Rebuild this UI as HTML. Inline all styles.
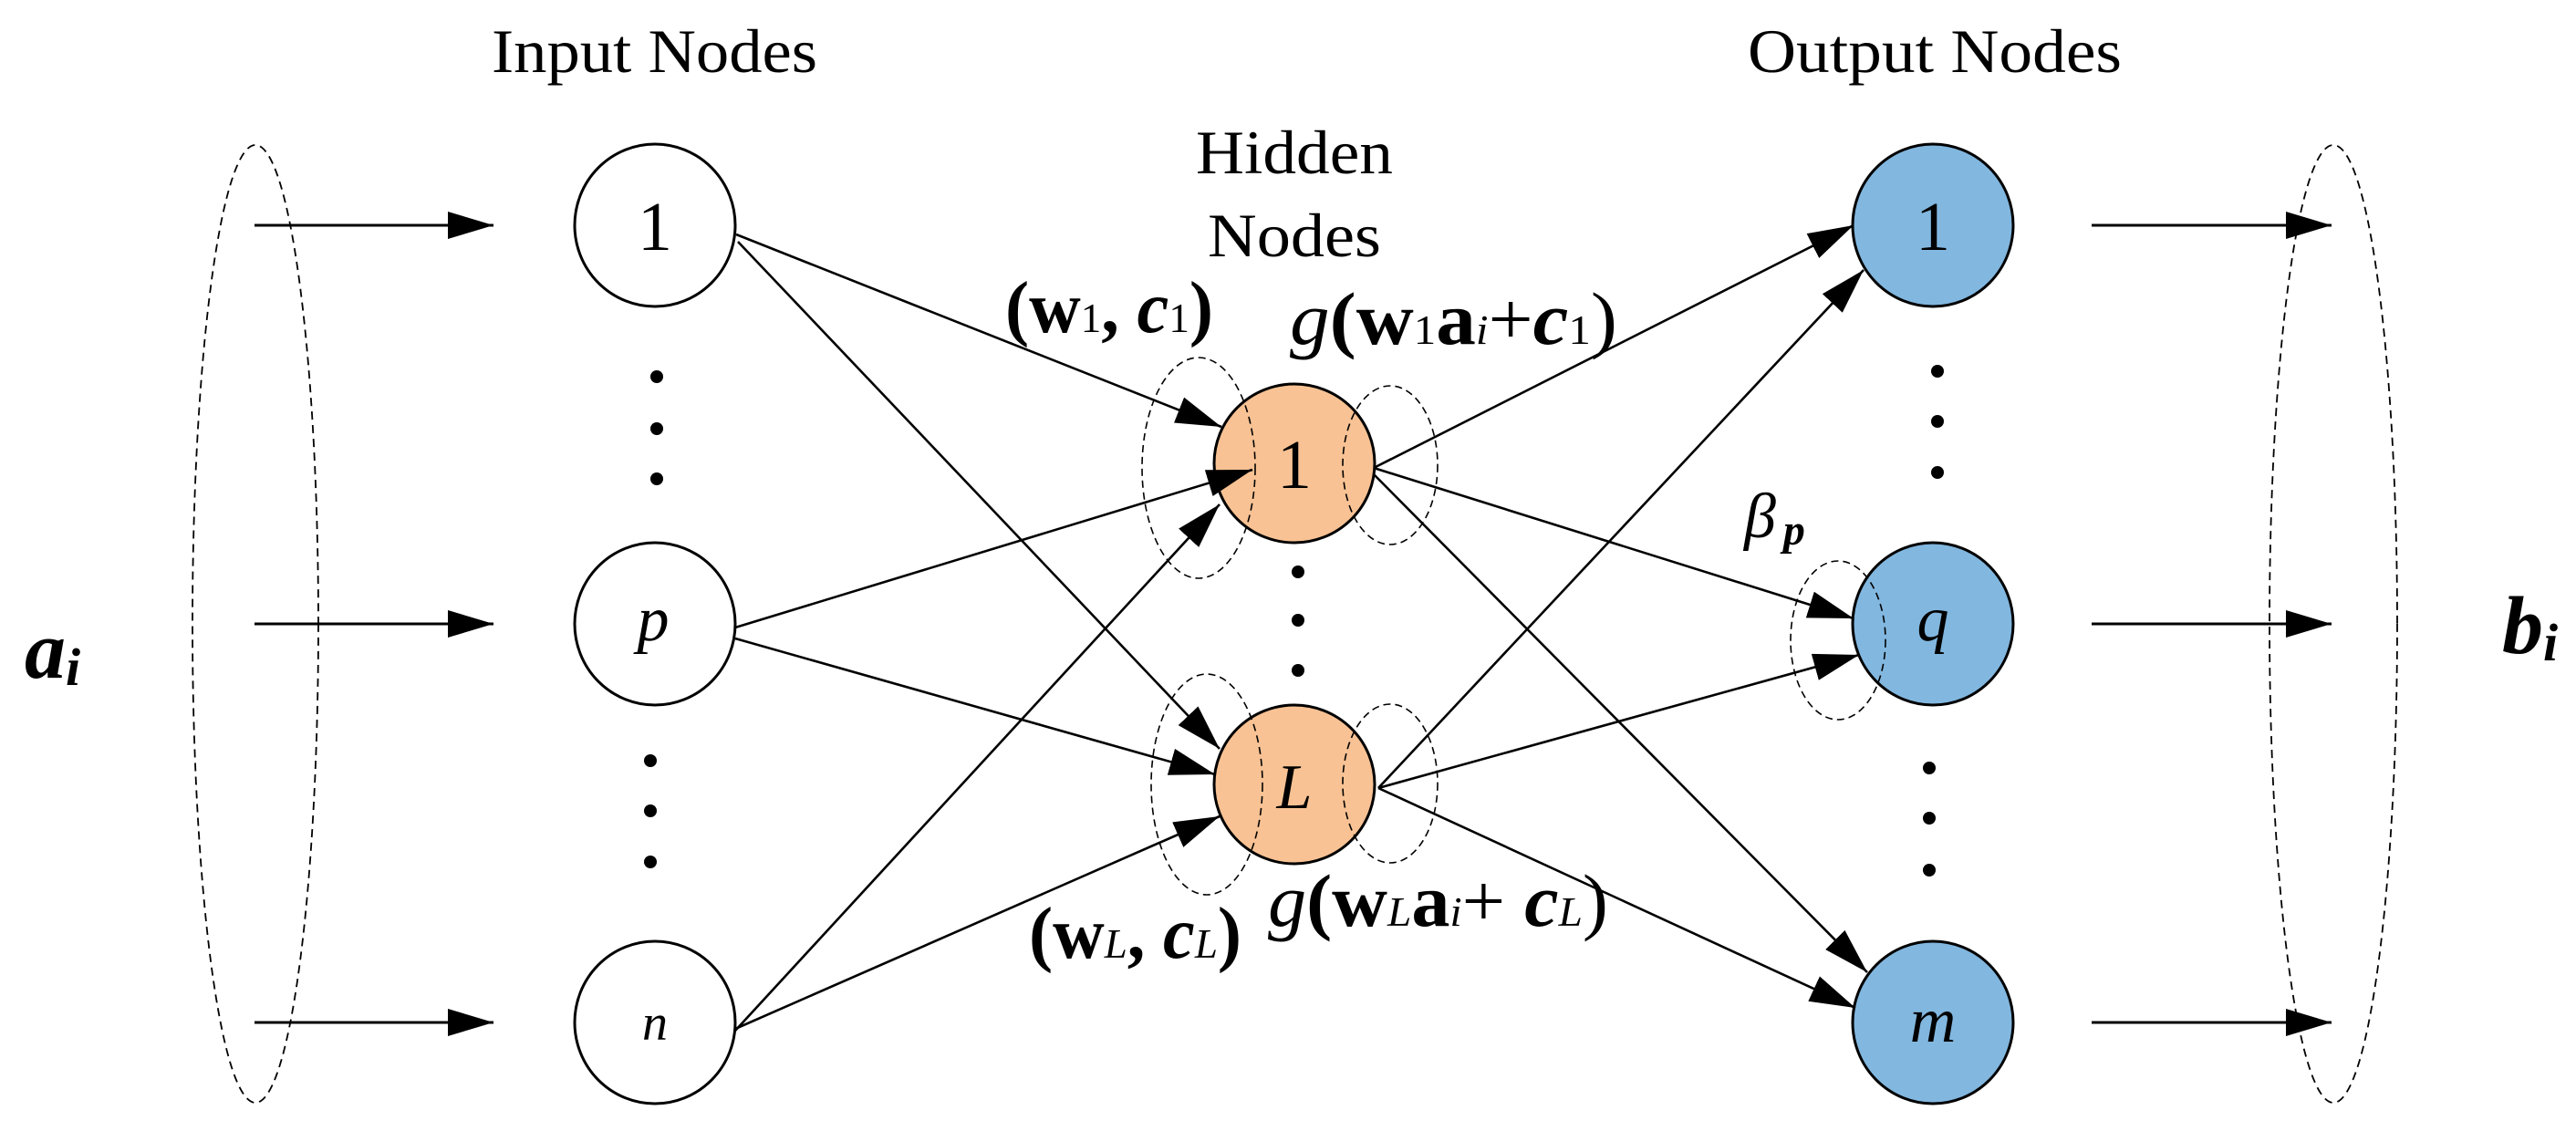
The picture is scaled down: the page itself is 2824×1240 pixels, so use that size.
<!DOCTYPE html>
<html><head><meta charset="utf-8"><style>
html,body{margin:0;padding:0;background:#fff;}
svg{display:block;font-family:"Liberation Serif","Times New Roman",serif;}
</style></head><body>
<svg width="2824" height="1240" viewBox="0 0 2824 1240" xmlns="http://www.w3.org/2000/svg">
<defs>
<marker id="a" markerUnits="userSpaceOnUse" markerWidth="52" markerHeight="32" refX="50" refY="15" orient="auto">
<path d="M0,0 L50,15 L0,30 Z" fill="#000"/>
</marker>
</defs>
<g fill="none" stroke="#000" stroke-width="1.8" stroke-dasharray="9,6">
<ellipse cx="280" cy="684" rx="69" ry="525"/>
<ellipse cx="2558" cy="684" rx="70" ry="525"/>
</g>
<g stroke="#000" stroke-width="3" marker-end="url(#a)">
<line x1="279" y1="247" x2="541" y2="247"/>
<line x1="279" y1="684" x2="541" y2="684"/>
<line x1="279" y1="1121" x2="541" y2="1121"/>
<line x1="2293" y1="247" x2="2556" y2="247"/>
<line x1="2293" y1="684" x2="2556" y2="684"/>
<line x1="2293" y1="1121" x2="2556" y2="1121"/>
</g>
<g fill="#fff" stroke="#000" stroke-width="3">
<ellipse cx="718" cy="247" rx="88" ry="89"/>
<ellipse cx="718" cy="684" rx="88" ry="89"/>
<ellipse cx="718" cy="1121" rx="88" ry="89"/>
</g>
<g fill="#F8C294" stroke="#000" stroke-width="3">
<ellipse cx="1419" cy="508" rx="88" ry="87"/>
<ellipse cx="1419" cy="860" rx="88" ry="87"/>
</g>
<g fill="#82B7DF" stroke="#000" stroke-width="3">
<ellipse cx="2119" cy="247" rx="88" ry="89"/>
<ellipse cx="2119" cy="684" rx="88" ry="89"/>
<ellipse cx="2119" cy="1121" rx="88" ry="89"/>
</g>
<g stroke="#000" stroke-width="2.6" marker-end="url(#a)">
<line x1="807" y1="257" x2="1339" y2="468"/>
<line x1="809" y1="265" x2="1337" y2="821"/>
<line x1="806" y1="688" x2="1373" y2="515"/>
<line x1="806" y1="700" x2="1332" y2="849"/>
<line x1="806" y1="1130" x2="1337" y2="553"/>
<line x1="806" y1="1128" x2="1337" y2="895"/>
<line x1="1506" y1="513" x2="2032" y2="247"/>
<line x1="1506" y1="513" x2="2032" y2="678"/>
<line x1="1506" y1="520" x2="2047" y2="1066"/>
<line x1="1511" y1="864" x2="2043" y2="296"/>
<line x1="1511" y1="864" x2="2038" y2="718"/>
<line x1="1511" y1="864" x2="2034" y2="1105"/>
</g>
<g fill="none" stroke="#000" stroke-width="1.6" stroke-dasharray="8,5">
<ellipse cx="1314" cy="513" rx="62" ry="121"/>
<ellipse cx="1524" cy="510" rx="52" ry="87"/>
<ellipse cx="1323" cy="860" rx="61" ry="121"/>
<ellipse cx="1524" cy="859" rx="52" ry="87"/>
<ellipse cx="2015" cy="702" rx="52" ry="87"/>
</g>
<g fill="#000">
<circle cx="720" cy="413" r="7"/><circle cx="720" cy="470" r="7"/><circle cx="720" cy="525" r="7"/>
<circle cx="713" cy="834" r="7"/><circle cx="713" cy="889" r="7"/><circle cx="713" cy="945" r="7"/>
<circle cx="1423" cy="627" r="7"/><circle cx="1423" cy="680" r="7"/><circle cx="1423" cy="735" r="7"/>
<circle cx="2124" cy="407" r="7"/><circle cx="2124" cy="462" r="7"/><circle cx="2124" cy="518" r="7"/>
<circle cx="2115" cy="842" r="7"/><circle cx="2115" cy="897" r="7"/><circle cx="2115" cy="954" r="7"/>
</g>
<g fill="#000" font-size="68" font-family="Liberation Serif, serif">
<text x="539" y="79" textLength="357" lengthAdjust="spacingAndGlyphs">Input Nodes</text>
<text x="1916" y="79" textLength="410" lengthAdjust="spacingAndGlyphs">Output Nodes</text>
<text x="1311" y="190" textLength="216" lengthAdjust="spacingAndGlyphs">Hidden</text>
<text x="1324" y="281" textLength="190" lengthAdjust="spacingAndGlyphs">Nodes</text>
<g text-anchor="middle" font-size="76">
<text x="718" y="274">1</text>
<text x="1419" y="535">1</text>
<text x="2119" y="274">1</text>
</g>
<g text-anchor="middle" font-style="italic" font-size="70">
<text x="716" y="702">p</text>
<text x="718" y="1140" font-size="56">n</text>
<text x="1419" y="886">L</text>
<text x="2119" y="702">q</text>
<text x="2119" y="1142">m</text>
</g>
<text x="27" y="743" font-size="90" font-weight="bold" font-style="italic">a<tspan font-size="58" dy="8">i</tspan></text>
<text x="2743" y="716" font-size="90" font-weight="bold" font-style="italic">b<tspan font-size="58" dy="8">i</tspan></text>
<text x="1912" y="589" font-size="70" font-style="italic">β<tspan font-size="48" font-weight="bold" dx="8" dy="8">p</tspan></text>
<text x="1102" y="364" font-size="80" font-weight="bold" textLength="228" lengthAdjust="spacingAndGlyphs">(w<tspan font-weight="normal" font-size="46">1</tspan>, <tspan font-style="italic">c</tspan><tspan font-weight="normal" font-size="46">1</tspan>)</text>
<text x="1414" y="377" font-size="82" textLength="359" lengthAdjust="spacingAndGlyphs"><tspan font-style="italic">g</tspan><tspan font-weight="bold">(w</tspan><tspan font-size="46">1</tspan><tspan font-weight="bold">a</tspan><tspan font-size="46" font-style="italic">i</tspan>+<tspan font-weight="bold" font-style="italic">c</tspan><tspan font-size="46">1</tspan>)</text>
<text x="1128" y="1050" font-size="80" font-weight="bold" textLength="233" lengthAdjust="spacingAndGlyphs">(w<tspan font-weight="normal" font-style="italic" font-size="46">L</tspan>, <tspan font-style="italic">c</tspan><tspan font-weight="normal" font-style="italic" font-size="46">L</tspan>)</text>
<text x="1390" y="1015" font-size="82" textLength="373" lengthAdjust="spacingAndGlyphs"><tspan font-style="italic">g</tspan><tspan font-weight="bold">(w</tspan><tspan font-size="46" font-style="italic">L</tspan><tspan font-weight="bold">a</tspan><tspan font-size="46" font-style="italic">i</tspan>+ <tspan font-weight="bold" font-style="italic">c</tspan><tspan font-size="46" font-style="italic">L</tspan>)</text>
</g>
</svg>
</body></html>
